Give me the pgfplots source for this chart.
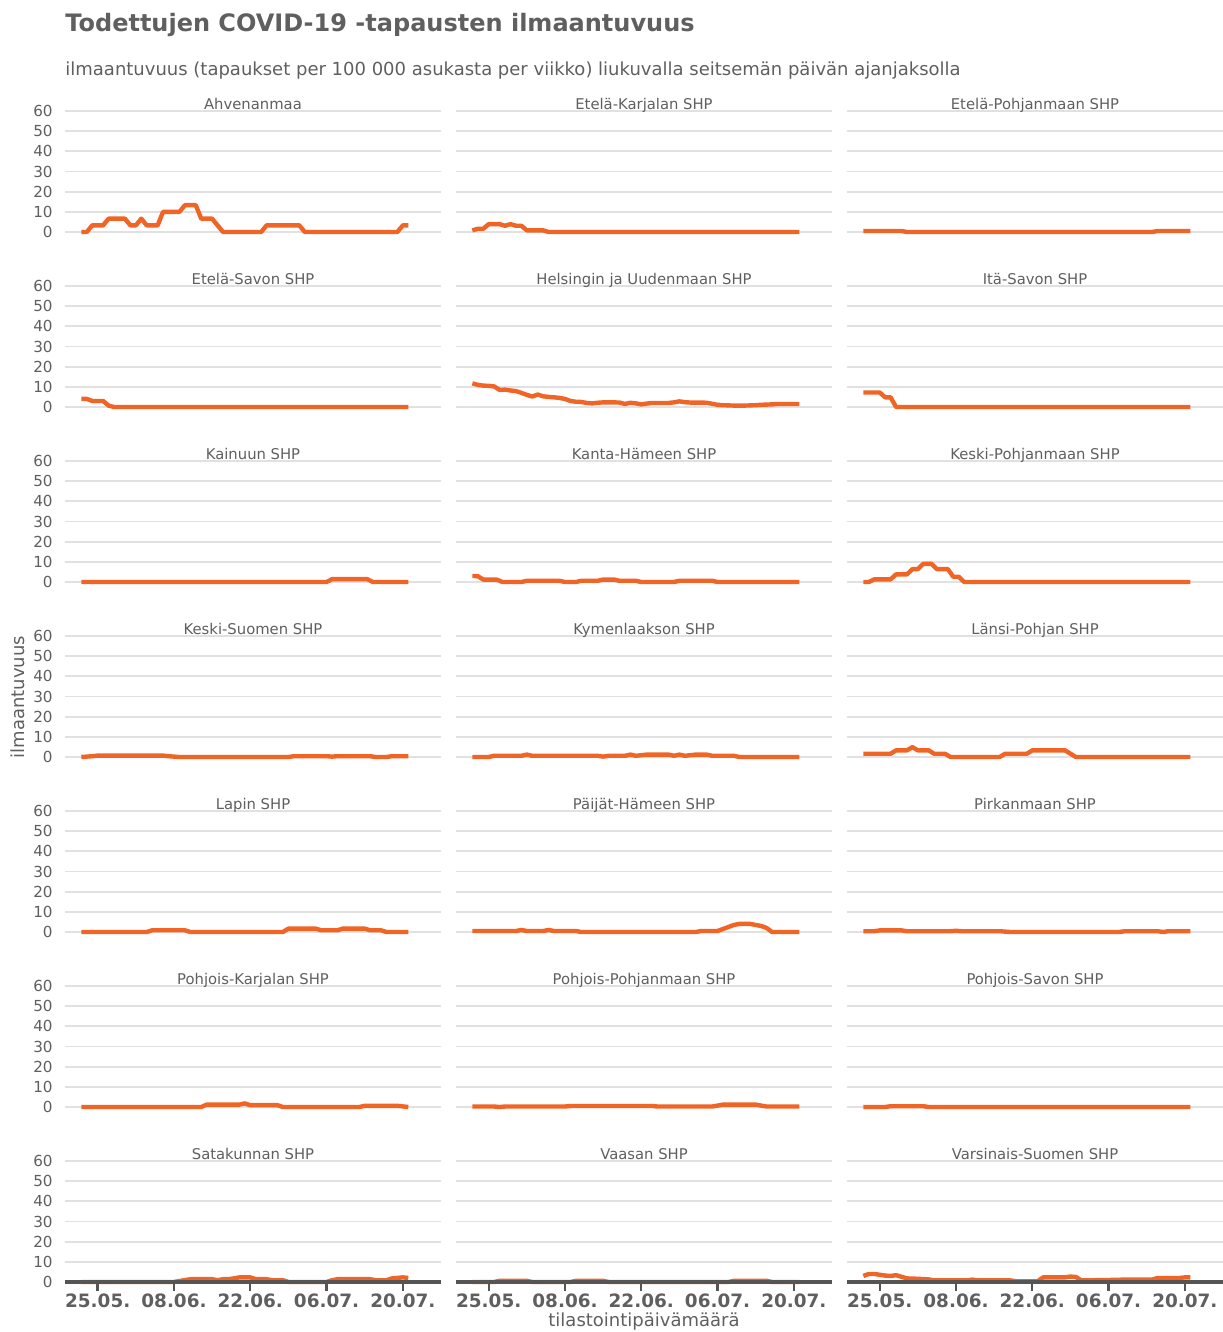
\documentclass[border=0pt]{standalone}
\usepackage{fontspec}
\setmainfont{DejaVu Sans}
\usepackage{pgfplots}
\pgfplotsset{compat=1.18}
\definecolor{linec}{RGB}{240,100,38}
\definecolor{gridc}{RGB}{225,225,225}
\definecolor{textc}{RGB}{95,95,95}
\definecolor{axisc}{RGB}{85,85,85}
\pgfplotsset{
 panel/.style={scale only axis, width=188pt, height=60.5pt, xmin=-6, xmax=63, ymin=0, ymax=60,
   ytick={0,10,...,60}, xtick=\empty, yticklabels={}, axis line style={draw=none},
   major tick length=0pt, ymajorgrids, grid style={color=gridc, line width=0.9pt},
   clip=false, anchor=south west},
 leftcol/.style={yticklabels={0,10,20,30,40,50,60},
   yticklabel style={font=\fontsize{7.6}{9}\selectfont, text=textc, inner sep=0pt, xshift=-6pt}},
 bottomrow/.style={xtick={0,14,28,42,56}, xticklabels={25.05.,08.06.,22.06.,06.07.,20.07.},
   xticklabel style={font=\bfseries\fontsize{9.2}{10}\selectfont, text=textc, inner sep=0pt, yshift=-5.5pt}},
 series/.style={color=linec, line width=2.2pt, line join=round, mark=none},
}
\tikzset{ptitle/.style={anchor=base, inner sep=0pt, yshift=1pt, font=\fontsize{7.4}{8.5}\selectfont, text=textc}}
\newcommand{\panel}[5]{%
\begin{axis}[panel, at={(#1,#2)}, #4]
\addplot[series] coordinates {#5};
\node[ptitle] at (rel axis cs:0.5,1) {#3};
\end{axis}}
\newcommand{\bpanel}[5]{%
\begin{axis}[panel, bottomrow, at={(#1,#2)}, #4]
\addplot[series] coordinates {#5};
\draw[axisc, line width=1.6pt] (rel axis cs:0,0) -- (rel axis cs:1,0);
\draw[axisc, line width=1.2pt] (axis cs:0,0) -- ([yshift=-4.3pt]axis cs:0,0);
\draw[axisc, line width=1.2pt] (axis cs:14,0) -- ([yshift=-4.3pt]axis cs:14,0);
\draw[axisc, line width=1.2pt] (axis cs:28,0) -- ([yshift=-4.3pt]axis cs:28,0);
\draw[axisc, line width=1.2pt] (axis cs:42,0) -- ([yshift=-4.3pt]axis cs:42,0);
\draw[axisc, line width=1.2pt] (axis cs:56,0) -- ([yshift=-4.3pt]axis cs:56,0);
\node[ptitle] at (rel axis cs:0.5,1) {#3};
\end{axis}}
\begin{document}
\begin{tikzpicture}
\useasboundingbox (0,0) rectangle (611pt,-666pt);
\node[anchor=base west, inner sep=0pt, font=\bfseries\fontsize{12}{14}\selectfont, text=textc] at (32.5pt,-16pt) {Todettujen COVID-19 -tapausten ilmaantuvuus};
\node[anchor=base west, inner sep=0pt, font=\fontsize{9}{11}\selectfont, text=textc] at (32.5pt,-38pt) {ilmaantuvuus (tapaukset per 100 000 asukasta per viikko) liukuvalla seitsemän päivän ajanjaksolla};
\node[rotate=90, anchor=center, inner sep=0pt, font=\fontsize{9}{11}\selectfont, text=textc] at (9pt,-348.5pt) {ilmaantuvuus};
\node[anchor=center, inner sep=0pt, font=\fontsize{9}{11}\selectfont, text=textc] at (322pt,-661pt) {tilastointipäivämäärä};

% Row 1
\panel{32.5pt}{-116pt}{Ahvenanmaa}{leftcol}{(-3,0)(-2,0)(-1,3.3)(1,3.3)(2,6.6)(5,6.6)(6,3.3)(7,3.3)(8,6.6)(9,3.3)(11,3.3)(12,10)(15,10)(16,13.3)(18,13.3)(19,6.6)(21,6.6)(23,0)(30,0)(31,3.3)(37,3.3)(38,0)(55,0)(56,3.3)(57,3.3)}
\panel{228pt}{-116pt}{Etelä-Karjalan SHP}{}{(-3,0.8)(-2,1.6)(-1,1.6)(0,3.9)(2,3.9)(3,3.1)(4,3.9)(5,3.1)(6,3.1)(7,0.8)(10,0.8)(11,0)(57,0)}
\panel{423.5pt}{-116pt}{Etelä-Pohjanmaan SHP}{}{(-3,0.5)(4,0.5)(5,0)(50,0)(51,0.5)(57,0.5)}
% Row 2
\panel{32.5pt}{-203.5pt}{Etelä-Savon SHP}{leftcol}{(-3,4)(-2,4)(-1,3)(1,3)(2,0.7)(3,0)(57,0)}
\panel{228pt}{-203.5pt}{Helsingin ja Uudenmaan SHP}{}{(-3,11.7)(-2,11.0)(-1,10.6)(0,10.5)(1,10.2)(2,8.5)(3,8.6)(4,8.2)(5,7.9)(6,7.0)(7,6.0)(8,5.2)(9,6.2)(10,5.3)(11,5.0)(12,4.8)(13,4.5)(14,4.0)(15,3.0)(16,2.6)(17,2.5)(18,2.0)(19,1.8)(20,2.1)(21,2.3)(22,2.3)(23,2.3)(24,2.2)(25,1.5)(26,2.1)(27,1.8)(28,1.3)(29,1.7)(30,2.0)(31,2.0)(32,2.0)(33,2.0)(34,2.3)(35,2.8)(36,2.4)(37,2.2)(38,2.2)(39,2.2)(40,2.1)(41,1.6)(42,1.1)(43,0.9)(44,0.8)(45,0.7)(46,0.7)(47,0.7)(48,0.8)(49,0.9)(50,1.1)(51,1.2)(52,1.3)(53,1.5)(54,1.5)(55,1.5)(56,1.5)(57,1.5)}
\panel{423.5pt}{-203.5pt}{Itä-Savon SHP}{}{(-3,7.2)(0,7.2)(1,4.8)(2,4.8)(3,0)(57,0)}
% Row 3
\panel{32.5pt}{-291pt}{Kainuun SHP}{leftcol}{(-3,0)(42,0)(43,1.4)(49.5,1.4)(50.5,0)(57,0)}
\panel{228pt}{-291pt}{Kanta-Hämeen SHP}{}{(-3,3)(-2,2.9)(-1,1.2)(1.5,1.2)(2.5,0)(6,0)(7,0.6)(13,0.6)(14,0)(16,0)(17,0.6)(20,0.6)(21,1.2)(23,1.2)(24,0.6)(27,0.6)(28,0)(34,0)(35,0.6)(41,0.6)(42,0)(57,0)}
\panel{423.5pt}{-291pt}{Keski-Pohjanmaan SHP}{}{(-3,0)(-2,0)(-1,1.3)(2,1.3)(3,3.8)(5,3.8)(6,6.4)(7,6.4)(8,9)(9.5,9)(10.5,6.4)(12.5,6.4)(13.5,2.6)(14.5,2.6)(15.5,0)(57,0)}
% Row 4
\panel{32.5pt}{-378.5pt}{Keski-Suomen SHP}{leftcol}{(-3,0)(-1,0.4)(0,0.7)(12,0.7)(13,0.4)(15,0)(35,0)(36,0.4)(42,0.4)(43,0.2)(44,0.4)(50,0.4)(51,0)(53,0)(54,0.4)(57,0.4)}
\panel{228pt}{-378.5pt}{Kymenlaakson SHP}{}{(-3,0)(0,0)(1,0.6)(6,0.6)(7,1.2)(8,0.6)(20,0.6)(21,0.2)(22,0.6)(25,0.6)(26,1.2)(27,0.6)(29,1.2)(33,1.2)(34,0.6)(35,1.2)(36,0.6)(38,1.2)(40,1.2)(41,0.6)(45,0.6)(46,0)(57,0)}
\panel{423.5pt}{-378.5pt}{Länsi-Pohjan SHP}{}{(-3,1.6)(2,1.6)(3,3.3)(5,3.3)(6,4.9)(7,3.3)(9,3.3)(10,1.6)(12,1.6)(13,0)(22,0)(23,1.6)(27,1.6)(28,3.3)(34,3.3)(36,0)(57,0)}
% Row 5
\panel{32.5pt}{-466pt}{Lapin SHP}{leftcol}{(-3,0)(9,0)(10,0.85)(16,0.85)(17,0)(34,0)(35,1.7)(40,1.7)(41,0.85)(44,0.85)(45,1.7)(49,1.7)(50,0.85)(52,0.85)(53,0)(57,0)}
\panel{228pt}{-466pt}{Päijät-Hämeen SHP}{}{(-3,0.5)(5,0.5)(6,1)(7,0.5)(10,0.5)(11,1)(12,0.5)(16,0.5)(17,0)(38,0)(39,0.5)(42,0.5)(43,1.5)(45,3.5)(46,4)(48,4)(49,3.5)(50,3)(51,2)(52,0)(57,0)}
\panel{423.5pt}{-466pt}{Pirkanmaan SHP}{}{(-3,0.4)(-1,0.4)(0,0.8)(4,0.8)(5,0.4)(13,0.4)(14,0.6)(15,0.4)(22,0.4)(24,0)(44,0)(45,0.4)(51,0.4)(52,0)(53,0.4)(57,0.4)}
% Row 6
\panel{32.5pt}{-553.5pt}{Pohjois-Karjalan SHP}{leftcol}{(-3,0)(19,0)(20,1.2)(26,1.2)(27,1.8)(28,0.9)(33,0.9)(34,0)(48,0)(49,0.6)(55,0.6)(57,0)}
\panel{228pt}{-553.5pt}{Pohjois-Pohjanmaan SHP}{}{(-3,0.24)(1,0.24)(2,0)(3,0.24)(14,0.24)(15,0.5)(30,0.5)(31,0.24)(41,0.24)(42,0.7)(43,1.2)(49,1.2)(50,0.7)(51,0.24)(57,0.24)}
\panel{423.5pt}{-553.5pt}{Pohjois-Savon SHP}{}{(-3,0)(1,0)(2,0.4)(8,0.4)(9,0)(57,0)}
% Row 7
\bpanel{32.5pt}{-641pt}{Satakunnan SHP}{leftcol}{(-3,0)(14,0)(15,0.5)(17,1.4)(21,1.4)(22,0.9)(23,1.4)(24,1.4)(25,1.8)(26,2.3)(28,2.3)(29,1.4)(31,1.4)(32,0.9)(34,0.9)(35,0)(42,0)(43,0.9)(44,1.4)(50,1.4)(51,0.9)(53,0.9)(54,1.8)(56,2.3)(57,2)}
\bpanel{228pt}{-641pt}{Vaasan SHP}{}{(-3,0)(1,0)(2,0.6)(7,0.6)(8,0)(15,0)(16,0.6)(21,0.6)(22,0)(44,0)(45,0.6)(51,0.6)(52,0)(57,0)}
\bpanel{423.5pt}{-641pt}{Varsinais-Suomen SHP}{}{(-3,3)(-2,4)(-1,4)(0,3.6)(1,3.2)(2,3)(3,3.4)(4,2.6)(5,1.8)(7,1.6)(9,1.3)(10,0.8)(16,0.8)(17,1.2)(18,0.8)(24,0.8)(25,0.4)(29,0.4)(30,2.3)(34,2.3)(35,2.7)(36,2.5)(37,0.8)(42,1)(45,1.2)(50,1.2)(51,2)(55,2)(56,2.3)(57,2.3)}
\end{tikzpicture}
\end{document}
